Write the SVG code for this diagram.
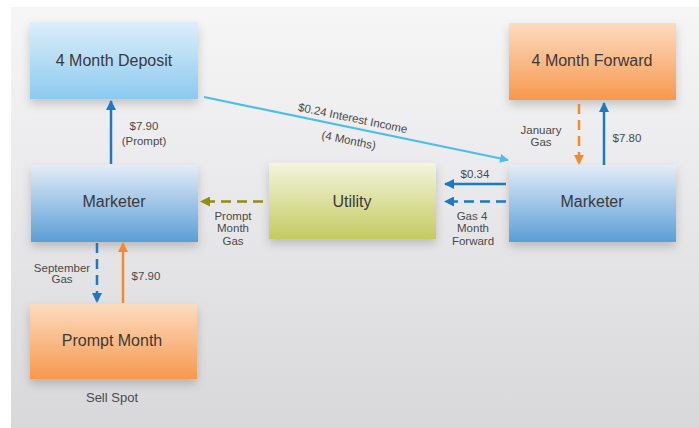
<svg xmlns="http://www.w3.org/2000/svg" width="699" height="428" viewBox="0 0 699 428">
<style>
.node{font-family:"Liberation Sans",Arial,sans-serif;font-size:16px;fill:#3a3a3a;text-anchor:middle}
.lbl{font-family:"Liberation Sans",Arial,sans-serif;font-size:11.5px;fill:#4a4a4a;text-anchor:middle}
.blue{stroke:#1a7ac4;stroke-width:2.5;fill:none}
.orange{stroke:#f58a2c;stroke-width:2.5;fill:none}
.olive{stroke:#8f8f12;stroke-width:2.5;fill:none}
.sky{stroke:#4cbdee;stroke-width:2.2;fill:none}
.dash{stroke-dasharray:10 6}
</style>
<defs>
<linearGradient id="bg" x1="0" y1="0" x2="0" y2="1"><stop offset="0" stop-color="#f6f6f6"/><stop offset="0.35" stop-color="#ececee"/><stop offset="1" stop-color="#d8d8da"/></linearGradient>
<linearGradient id="gDep" x1="0" y1="0" x2="0" y2="1"><stop offset="0" stop-color="#ddeefa"/><stop offset="1" stop-color="#8ccaef"/></linearGradient>
<linearGradient id="gOr" x1="0" y1="0" x2="0" y2="1"><stop offset="0" stop-color="#fddcc0"/><stop offset="1" stop-color="#f7984e"/></linearGradient>
<linearGradient id="gMk" x1="0" y1="0" x2="0" y2="1"><stop offset="0" stop-color="#e4ecf8"/><stop offset="1" stop-color="#5a9ed6"/></linearGradient>
<linearGradient id="gUt" x1="0" y1="0" x2="0" y2="1"><stop offset="0" stop-color="#f3f5de"/><stop offset="1" stop-color="#c4cb60"/></linearGradient>
<filter id="sh" x="-20%" y="-20%" width="140%" height="150%"><feDropShadow dx="0" dy="5" stdDeviation="5" flood-color="#000" flood-opacity="0.18"/></filter>
<marker id="aBlue" viewBox="0 0 10 10" refX="9" refY="5" markerWidth="4" markerHeight="4" orient="auto"><path d="M0,0 L10,5 L0,10 z" fill="#1a7ac4"/></marker>
<marker id="aOr" viewBox="0 0 10 10" refX="9" refY="5" markerWidth="4" markerHeight="4" orient="auto"><path d="M0,0 L10,5 L0,10 z" fill="#f58a2c"/></marker>
<marker id="aOl" viewBox="0 0 10 10" refX="9" refY="5" markerWidth="4" markerHeight="4" orient="auto"><path d="M0,0 L10,5 L0,10 z" fill="#8f8f12"/></marker>
<marker id="aSky" viewBox="0 0 10 10" refX="9" refY="5" markerWidth="5" markerHeight="4" orient="auto"><path d="M0,0 L10,5 L0,10 z" fill="#4cbdee"/></marker>
</defs>
<rect x="0" y="0" width="699" height="428" fill="#ffffff"/>
<rect x="11" y="7" width="688" height="421" fill="url(#bg)"/>

<g id="deposit"><rect x="30" y="22" width="168" height="77" fill="url(#gDep)" filter="url(#sh)"/><text class="node" x="114" y="66">4 Month Deposit</text></g>
<g id="forward"><rect x="509" y="23" width="167" height="77" fill="url(#gOr)" filter="url(#sh)"/><text class="node" x="592" y="66">4 Month Forward</text></g>
<g id="marketer-left"><rect x="31" y="165" width="167" height="77" fill="url(#gMk)" filter="url(#sh)"/><text class="node" x="114" y="207">Marketer</text></g>
<g id="utility"><rect x="269" y="163" width="167" height="76" fill="url(#gUt)" filter="url(#sh)"/><text class="node" x="352" y="207">Utility</text></g>
<g id="marketer-right"><rect x="509" y="165" width="167" height="77" fill="url(#gMk)" filter="url(#sh)"/><text class="node" x="592" y="207">Marketer</text></g>
<g id="prompt-month"><rect x="30" y="304" width="167" height="75" fill="url(#gOr)" filter="url(#sh)"/><text class="node" x="112" y="346">Prompt Month</text><text class="lbl" x="112" y="402" style="font-size:13px">Sell Spot</text></g>

<g id="connectors">
<line class="blue" x1="111" y1="164" x2="111" y2="101" marker-end="url(#aBlue)"/>
<text class="lbl" x="144" y="130">$7.90</text><text class="lbl" x="144" y="145">(Prompt)</text>

<line class="sky" x1="204" y1="97" x2="508" y2="160" marker-end="url(#aSky)"/>
<text class="lbl" transform="translate(352,122) rotate(11.7)">$0.24 Interest Income</text>
<text class="lbl" transform="translate(348,144) rotate(11.7)">(4 Months)</text>

<line class="orange dash" x1="579" y1="104" x2="579" y2="164" marker-end="url(#aOr)"/>
<text class="lbl" x="541" y="134">January</text><text class="lbl" x="541" y="146">Gas</text>

<line class="blue" x1="604" y1="165" x2="604" y2="103" marker-end="url(#aBlue)"/>
<text class="lbl" x="627" y="142">$7.80</text>

<line class="blue" x1="506" y1="184" x2="445" y2="184" marker-end="url(#aBlue)"/>
<text class="lbl" x="475" y="178">$0.34</text>

<line class="blue dash" x1="506" y1="201.5" x2="445" y2="201.5" marker-end="url(#aBlue)"/>
<text class="lbl" x="472" y="220">Gas 4</text><text class="lbl" x="473" y="232">Month</text><text class="lbl" x="473" y="245">Forward</text>

<line class="olive dash" x1="263" y1="201.5" x2="201" y2="201.5" marker-end="url(#aOl)"/>
<text class="lbl" x="233" y="220">Prompt</text><text class="lbl" x="233" y="232">Month</text><text class="lbl" x="233" y="245">Gas</text>

<line class="blue dash" x1="97" y1="243" x2="97" y2="302" marker-end="url(#aBlue)"/>
<text class="lbl" x="62" y="272">September</text><text class="lbl" x="62" y="283">Gas</text>

<line class="orange" x1="123" y1="303" x2="123" y2="243" marker-end="url(#aOr)"/>
<text class="lbl" x="146" y="280">$7.90</text>
</g>
</svg>
